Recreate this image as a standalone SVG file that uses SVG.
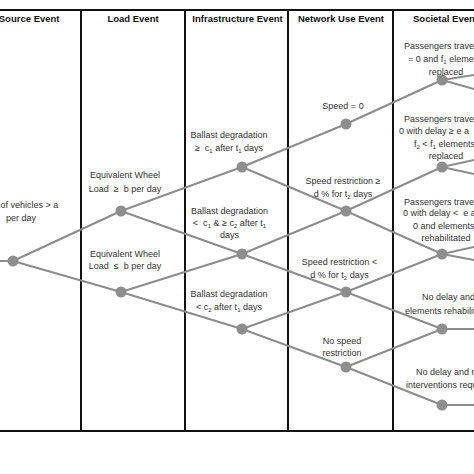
<svg xmlns="http://www.w3.org/2000/svg" width="474" height="474" viewBox="0 0 474 474">
<style>
.bg{fill:#ffffff}
.grid{stroke:#111111;stroke-width:2;fill:none}
.edge{stroke:#8c8c8c;stroke-width:2;fill:none}
.node{fill:#8e8e8e}
.hdr{font-family:"Liberation Sans",Arial,sans-serif;font-size:9.5px;font-weight:bold;fill:#111111}
.lbl{font-family:"Liberation Sans",Arial,sans-serif;font-size:9px;fill:#333333}
.c{text-anchor:middle}
.e{text-anchor:end}
.sub{font-size:6px}
</style>
<rect class="bg" x="0" y="0" width="474" height="474"/>
<g id="grid">
<line class="grid" x1="0" y1="10" x2="474" y2="10"/>
<line class="grid" x1="0" y1="431" x2="474" y2="431"/>
<line class="grid" x1="81" y1="10" x2="81" y2="431"/>
<line class="grid" x1="185" y1="10" x2="185" y2="431"/>
<line class="grid" x1="288" y1="10" x2="288" y2="431"/>
<line class="grid" x1="393" y1="10" x2="393" y2="431"/>
</g>
<g id="headers">
<text class="hdr e" x="59.5" y="21.7">Source Event</text>
<text class="hdr c" x="133" y="21.7">Load Event</text>
<text class="hdr c" x="237.5" y="21.7">Infrastructure Event</text>
<text class="hdr c" x="341" y="21.7">Network Use Event</text>
<text class="hdr" x="413" y="21.7">Societal Event</text>
</g>
<g id="connectors">
<line class="edge" x1="0" y1="261" x2="13" y2="261"/>
<line class="edge" x1="13" y1="261" x2="121" y2="211"/>
<line class="edge" x1="13" y1="261" x2="121" y2="292"/>
<line class="edge" x1="121" y1="211" x2="242" y2="167"/>
<line class="edge" x1="121" y1="211" x2="242" y2="254"/>
<line class="edge" x1="121" y1="292" x2="242" y2="254"/>
<line class="edge" x1="121" y1="292" x2="242" y2="329"/>
<line class="edge" x1="242" y1="167" x2="346" y2="124"/>
<line class="edge" x1="242" y1="167" x2="346" y2="211"/>
<line class="edge" x1="242" y1="254" x2="346" y2="211"/>
<line class="edge" x1="242" y1="254" x2="346" y2="292"/>
<line class="edge" x1="242" y1="329" x2="346" y2="292"/>
<line class="edge" x1="242" y1="329" x2="346" y2="367"/>
<line class="edge" x1="346" y1="124" x2="442" y2="80"/>
<line class="edge" x1="346" y1="211" x2="442" y2="167"/>
<line class="edge" x1="346" y1="211" x2="442" y2="254"/>
<line class="edge" x1="346" y1="292" x2="442" y2="254"/>
<line class="edge" x1="346" y1="292" x2="442" y2="329"/>
<line class="edge" x1="346" y1="367" x2="442" y2="329"/>
<line class="edge" x1="346" y1="367" x2="442" y2="405"/>
<line class="edge" x1="442" y1="80" x2="474" y2="75"/>
<line class="edge" x1="442" y1="80" x2="474" y2="89"/>
<line class="edge" x1="442" y1="167" x2="474" y2="160"/>
<line class="edge" x1="442" y1="167" x2="474" y2="174"/>
<line class="edge" x1="442" y1="254" x2="474" y2="247"/>
<line class="edge" x1="442" y1="254" x2="474" y2="260"/>
<line class="edge" x1="442" y1="329" x2="474" y2="329"/>
<line class="edge" x1="442" y1="405" x2="474" y2="405"/>
</g>
<g id="source">
<circle class="node" cx="13" cy="261" r="5.5"/>
<text class="lbl" x="0.5" y="207.6">of vehicles &gt; a</text>
<text class="lbl c" x="21" y="221">per day</text>
</g>
<g id="load-high">
<circle class="node" cx="121" cy="211" r="5.5"/>
<text class="lbl c" x="125" y="178.4">Equivalent Wheel</text>
<text class="lbl c" x="125" y="191.6" xml:space="preserve">Load  ≥  b per day</text>
</g>
<g id="load-low">
<circle class="node" cx="121" cy="292" r="5.5"/>
<text class="lbl c" x="125" y="256.6">Equivalent Wheel</text>
<text class="lbl c" x="125" y="269.4" xml:space="preserve">Load  ≤  b per day</text>
</g>
<g id="infra-1">
<circle class="node" cx="242" cy="167" r="5.5"/>
<text class="lbl c" x="229" y="138">Ballast degradation</text>
<text class="lbl c" x="229" y="150.6" xml:space="preserve">≥  c<tspan class="sub" baseline-shift="-2">1</tspan> after t<tspan class="sub" baseline-shift="-2">1</tspan> days</text>
</g>
<g id="infra-2">
<circle class="node" cx="242" cy="254" r="5.5"/>
<text class="lbl c" x="229.5" y="214">Ballast degradation</text>
<text class="lbl c" x="229.5" y="226" xml:space="preserve">&lt;  c<tspan class="sub" baseline-shift="-2">1</tspan> &amp; ≥ c<tspan class="sub" baseline-shift="-2">2</tspan> after t<tspan class="sub" baseline-shift="-2">1</tspan></text>
<text class="lbl c" x="229.5" y="238.3">days</text>
</g>
<g id="infra-3">
<circle class="node" cx="242" cy="329" r="5.5"/>
<text class="lbl c" x="229" y="297.3">Ballast degradation</text>
<text class="lbl c" x="229" y="309.5">&lt; c<tspan class="sub" baseline-shift="-2">2</tspan> after t<tspan class="sub" baseline-shift="-2">1</tspan> days</text>
</g>
<g id="net-1">
<circle class="node" cx="346" cy="124" r="5.5"/>
<text class="lbl c" x="343" y="108.6">Speed = 0</text>
</g>
<g id="net-2">
<circle class="node" cx="346" cy="211" r="5.5"/>
<text class="lbl c" x="343" y="184.3">Speed restriction ≥</text>
<text class="lbl c" x="343" y="196.6">d % for t<tspan class="sub" baseline-shift="-2">2</tspan> days</text>
</g>
<g id="net-3">
<circle class="node" cx="346" cy="292" r="5.5"/>
<text class="lbl c" x="339.5" y="265.3">Speed restriction &lt;</text>
<text class="lbl c" x="339.5" y="278.3">d % for t<tspan class="sub" baseline-shift="-2">2</tspan> days</text>
</g>
<g id="net-4">
<circle class="node" cx="346" cy="367" r="5.5"/>
<text class="lbl c" x="342" y="344">No speed</text>
<text class="lbl c" x="342" y="356">restriction</text>
</g>
<g id="soc-1">
<circle class="node" cx="442" cy="80" r="5.5"/>
<text class="lbl" x="404" y="49.3">Passengers trave</text>
<text class="lbl" x="408" y="62">= 0 and f<tspan class="sub" baseline-shift="-2">1</tspan> elemen</text>
<text class="lbl c" x="446" y="74.5">replaced</text>
</g>
<g id="soc-2">
<circle class="node" cx="442" cy="167" r="5.5"/>
<text class="lbl" x="404" y="121.8">Passengers trave</text>
<text class="lbl" x="399" y="134.3">0 with delay ≥ e a</text>
<text class="lbl" x="414" y="146.8">f<tspan class="sub" baseline-shift="-2">2</tspan> &lt; f<tspan class="sub" baseline-shift="-2">1</tspan> elements</text>
<text class="lbl c" x="446" y="159.3">replaced</text>
</g>
<g id="soc-3">
<circle class="node" cx="442" cy="254" r="5.5"/>
<text class="lbl" x="404" y="204.5">Passengers trave</text>
<text class="lbl" x="403" y="216.3" xml:space="preserve">0 with delay &lt;  e a</text>
<text class="lbl" x="413" y="228.5">0 and elements</text>
<text class="lbl c" x="446" y="240.8">rehabilitated</text>
</g>
<g id="soc-4">
<circle class="node" cx="442" cy="329" r="5.5"/>
<text class="lbl" x="422" y="300.3">No delay and</text>
<text class="lbl" x="405" y="313.8">elements rehabilit</text>
</g>
<g id="soc-5">
<circle class="node" cx="442" cy="405" r="5.5"/>
<text class="lbl" x="416" y="375">No delay and n</text>
<text class="lbl" x="406" y="388.3">interventions requ</text>
</g>
</svg>
